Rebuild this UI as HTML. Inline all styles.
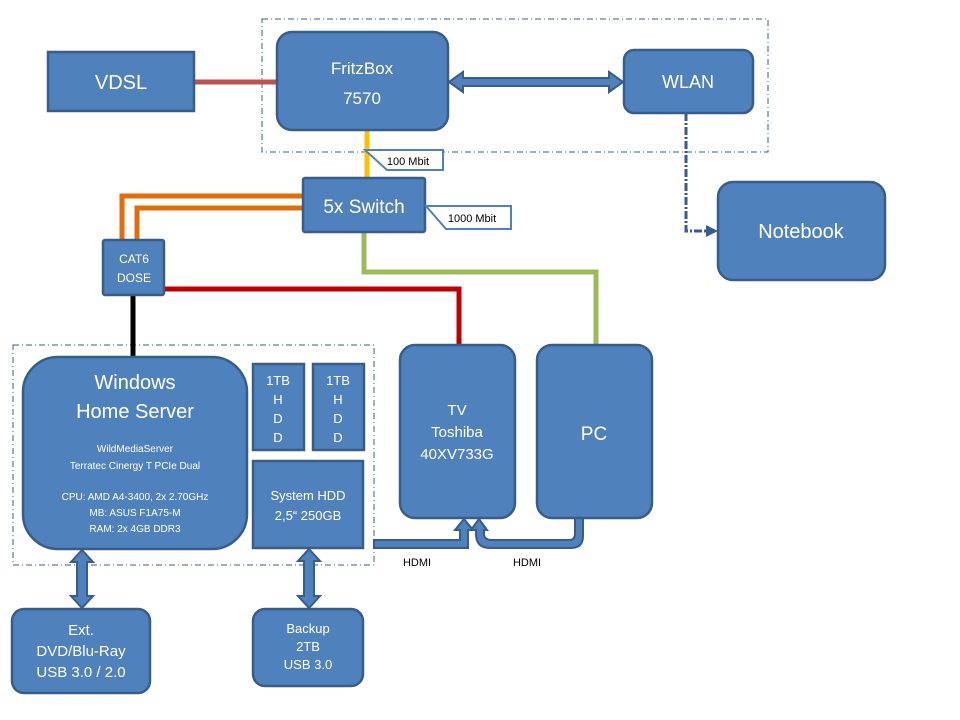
<!DOCTYPE html>
<html><head><meta charset="utf-8"><style>
body{margin:0;background:#fff;}
svg{display:block;font-family:"Liberation Sans",sans-serif;}
</style></head><body>
<svg width="960" height="720" viewBox="0 0 960 720" xmlns="http://www.w3.org/2000/svg">
<defs>
<marker id="ah" markerWidth="4" markerHeight="4" refX="2" refY="2" orient="auto" markerUnits="strokeWidth"><path d="M0,0 L4,2 L0,4 z" fill="#385d8a"/></marker>
</defs>
<!-- dashed groups -->
<rect x="262" y="19" width="506" height="133" fill="none" stroke="#385d8a" stroke-width="1" stroke-dasharray="6,3,1,3"/>
<rect x="13" y="345" width="361" height="220" fill="none" stroke="#385d8a" stroke-width="1" stroke-dasharray="6,3,1,3"/>
<!-- connector lines -->
<line x1="194" y1="82" x2="277" y2="82" stroke="#c0504d" stroke-width="5"/>
<line x1="367" y1="130" x2="367" y2="178" stroke="#ffc000" stroke-width="5"/>
<path d="M303,196 H122 V240" fill="none" stroke="#e36c09" stroke-width="5"/>
<path d="M303,208 H137 V240" fill="none" stroke="#e36c09" stroke-width="5"/>
<line x1="133" y1="295" x2="133" y2="357" stroke="#000" stroke-width="5"/>
<path d="M164,289 H459 V345" fill="none" stroke="#c00000" stroke-width="5"/>
<path d="M364,232 V272 H596 V345" fill="none" stroke="#9bbb59" stroke-width="5"/>
<!-- WLAN-Notebook dashed -->
<path d="M686,113 V231 H712" fill="none" stroke="#385d8a" stroke-width="3" stroke-dasharray="8,2,2,2" marker-end="url(#ah)"/>
<!-- double arrow Fritz-WLAN -->
<path d="M449,82 L463,72 L463,78 L609,78 L609,72 L623,82 L609,92 L609,86 L463,86 L463,92 Z" fill="#4f81bd" stroke="#385d8a" stroke-width="2"/>
<!-- vertical double arrows -->
<path d="M82,550 L93,562 L87,562 L87,596 L93,596 L82,608 L71,596 L77,596 L77,562 L71,562 Z" fill="#4f81bd" stroke="#385d8a" stroke-width="2"/>
<path d="M309,549 L320,561 L314,561 L314,596 L320,596 L309,608 L298,596 L304,596 L304,561 L298,561 Z" fill="#4f81bd" stroke="#385d8a" stroke-width="2"/>
<!-- HDMI arrows -->
<path d="M374,540 L460,540 L460,530 L455,530 L464,519 L473,530 L468,530 L468,548 L374,548 Z" fill="#4f81bd" stroke="#385d8a" stroke-width="2"/>
<path d="M583,518 L583,536 Q583,548 571,548 L490,548 Q476,548 476,534 L476,530 L471,530 L479,519 L487,530 L484,530 L484,534 Q484,540 492,540 L569,540 Q575,540 575,534 L575,518 Z" fill="#4f81bd" stroke="#385d8a" stroke-width="2"/>
<text x="417" y="566" font-size="11" text-anchor="middle" fill="#000">HDMI</text>
<text x="527" y="566" font-size="11" text-anchor="middle" fill="#000">HDMI</text>
<!-- boxes -->
<g fill="#4f81bd" stroke="#385d8a" stroke-width="2.5">
<rect x="48" y="52" width="146" height="59"/>
<rect x="277" y="32" width="171" height="98" rx="15"/>
<rect x="624" y="50" width="129" height="63" rx="10"/>
<rect x="718" y="182" width="167" height="98" rx="15"/>
<rect x="303" y="178" width="122" height="54" rx="2"/>
<rect x="103" y="240" width="61" height="55" rx="2"/>
<rect x="23" y="357" width="224" height="192" rx="35"/>
<rect x="253" y="364" width="51" height="86"/>
<rect x="313" y="364" width="51" height="86"/>
<rect x="253" y="461" width="110" height="87"/>
<rect x="400" y="345" width="115" height="173" rx="15"/>
<rect x="537" y="345" width="115" height="173" rx="15"/>
<rect x="12" y="609" width="138" height="84" rx="12"/>
<rect x="253" y="609" width="110" height="77" rx="12"/>
</g>
<!-- callouts -->
<path d="M365,150 L443,150 L443,170 L387,170 Z" fill="#fff" stroke="#4f81bd" stroke-width="2"/>
<text x="408" y="165" font-size="11" text-anchor="middle">100 Mbit</text>
<path d="M426,206 L511,206 L511,229 L446,229 Z" fill="#fff" stroke="#4f81bd" stroke-width="2"/>
<text x="472" y="222" font-size="11" text-anchor="middle">1000 Mbit</text>
<!-- texts -->
<g fill="#fff" text-anchor="middle">
<text x="121" y="89" font-size="20">VDSL</text>
<text x="362" y="74" font-size="17">FritzBox</text>
<text x="362" y="104" font-size="17">7570</text>
<text x="688" y="88" font-size="18">WLAN</text>
<text x="801" y="238" font-size="20">Notebook</text>
<text x="364" y="213" font-size="19">5x Switch</text>
<text x="134" y="263" font-size="12">CAT6</text>
<text x="134" y="282" font-size="12">DOSE</text>
<text x="135" y="389" font-size="20">Windows</text>
<text x="135" y="418" font-size="20">Home Server</text>
<text x="135" y="452" font-size="10">WildMediaServer</text>
<text x="135" y="469" font-size="10">Terratec Cinergy T PCIe Dual</text>
<text x="135" y="500" font-size="10">CPU: AMD A4-3400, 2x 2.70GHz</text>
<text x="135" y="516" font-size="10">MB: ASUS  F1A75-M</text>
<text x="135" y="532" font-size="10">RAM:  2x 4GB DDR3</text>
<text x="278" y="385" font-size="13">1TB</text>
<text x="278" y="404" font-size="13">H</text>
<text x="278" y="423" font-size="13">D</text>
<text x="278" y="442" font-size="13">D</text>
<text x="338" y="385" font-size="13">1TB</text>
<text x="338" y="404" font-size="13">H</text>
<text x="338" y="423" font-size="13">D</text>
<text x="338" y="442" font-size="13">D</text>
<text x="308" y="500" font-size="13">System HDD</text>
<text x="308" y="520" font-size="13">2,5“ 250GB</text>
<text x="457" y="415" font-size="15">TV</text>
<text x="457" y="437" font-size="15">Toshiba</text>
<text x="457" y="459" font-size="15">40XV733G</text>
<text x="594" y="440" font-size="19">PC</text>
<text x="81" y="635" font-size="15">Ext.</text>
<text x="81" y="656" font-size="15">DVD/Blu-Ray</text>
<text x="81" y="677" font-size="15">USB 3.0 / 2.0</text>
<text x="308" y="633" font-size="13">Backup</text>
<text x="308" y="651" font-size="13">2TB</text>
<text x="308" y="669" font-size="13">USB 3.0</text>
</g>
</svg>
</body></html>
